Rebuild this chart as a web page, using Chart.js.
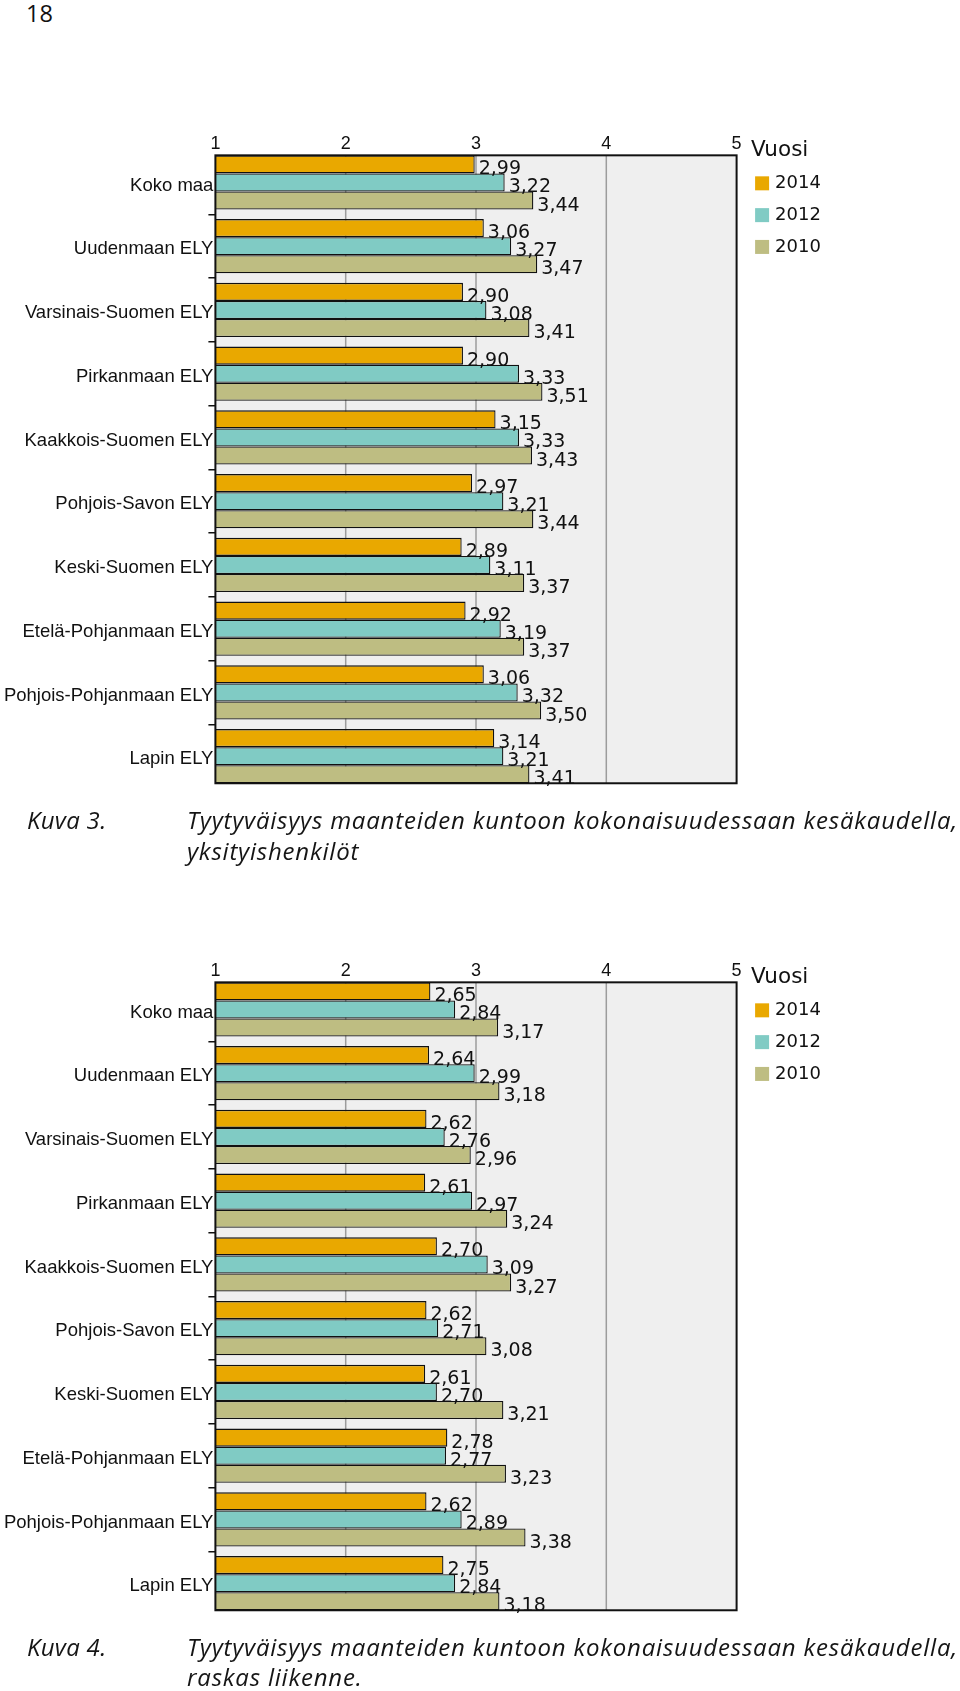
<!DOCTYPE html>
<html><head><meta charset="utf-8">
<script src="https://cdn.jsdelivr.net/npm/chart.js@4.4.1/dist/chart.umd.min.js"></script>
<style>
html,body{margin:0;padding:0;background:#fff;}
body{width:960px;height:1691px;position:relative;overflow:hidden;}
.pn{position:absolute;left:26px;top:2px;font:23.5px/23.5px "Open Sans",sans-serif;color:#111;}
.fig{position:absolute;left:0;width:960px;height:860px;}
.fig canvas{position:absolute;left:0;top:100px;}
.cap{position:absolute;left:0;width:960px;font:italic 24px/30.5px "Open Sans",sans-serif;letter-spacing:0.8px;color:#151515;white-space:nowrap;}
.cap .k{position:absolute;left:27px;top:0;letter-spacing:0.3px;}
.cap .t{position:absolute;left:187px;top:0;}
</style></head><body>
<div class="pn">18</div>
<div class="fig" style="top:0px"><canvas id="c1" width="960" height="710"></canvas>
<div class="cap" style="top:805px"><span class="k">Kuva 3.</span><span class="t">Tyytyväisyys maanteiden kuntoon kokonaisuudessaan kesäkaudella,<br>yksityishenkilöt</span></div></div>
<div class="fig" style="top:826.7px"><canvas id="c2" width="960" height="710"></canvas>
<div class="cap" style="top:805px"><span class="k">Kuva 4.</span><span class="t">Tyytyväisyys maanteiden kuntoon kokonaisuudessaan kesäkaudella,<br>raskas liikenne.</span></div></div>
<script>
const categories = ['Koko maa','Uudenmaan ELY','Varsinais-Suomen ELY','Pirkanmaan ELY','Kaakkois-Suomen ELY','Pohjois-Savon ELY','Keski-Suomen ELY','Etelä-Pohjanmaan ELY','Pohjois-Pohjanmaan ELY','Lapin ELY'];
const years = ['2014','2012','2010'];
const legendTitle = 'Vuosi';
const scaleTicks = [1,2,3,4,5];
// Kuva 3: yksityishenkilöt
const private2014 = [2.99,3.06,2.90,2.90,3.15,2.97,2.89,2.92,3.06,3.14];
const private2012 = [3.22,3.27,3.08,3.33,3.33,3.21,3.11,3.19,3.32,3.21];
const private2010 = [3.44,3.47,3.41,3.51,3.43,3.44,3.37,3.37,3.50,3.41];
// Kuva 4: raskas liikenne
const heavy2014 = [2.65,2.64,2.62,2.61,2.70,2.62,2.61,2.78,2.62,2.75];
const heavy2012 = [2.84,2.99,2.76,2.97,3.09,2.71,2.70,2.77,2.89,2.84];
const heavy2010 = [3.17,3.18,2.96,3.24,3.27,3.08,3.21,3.23,3.38,3.18];

const colors = ['#E9A800','#80CBC4','#BEBD82'];

function frameRect(chart){
  const first = chart.getDatasetMeta(0).data[0];
  const n = chart.data.datasets.length;
  const lm = chart.getDatasetMeta(n-1).data;
  const last = lm[lm.length-1];
  return {top: first.y - first.height/2, bottom: last.y + last.height/2};
}
const framePlugin = {
  id:'frame',
  beforeDatasetsDraw(chart){
    const {ctx, chartArea:a, scales:{x}} = chart;
    const f = frameRect(chart);
    ctx.save();
    ctx.fillStyle = '#EFEFEF';
    ctx.fillRect(a.left, f.top, a.right-a.left, f.bottom-f.top);
    ctx.strokeStyle = '#9C9C9C'; ctx.lineWidth = 1.5;
    x.ticks.forEach(t=>{
      if (t.value > x.min && t.value < x.max){
        const px = x.getPixelForValue(t.value);
        ctx.beginPath(); ctx.moveTo(px, f.top); ctx.lineTo(px, f.bottom); ctx.stroke();
      }
    });
    ctx.restore();
  },
  afterDatasetsDraw(chart){
    const {ctx, chartArea:a} = chart;
    const f = frameRect(chart);
    ctx.save();
    ctx.strokeStyle = '#111'; ctx.lineWidth = 2;
    ctx.strokeRect(a.left, f.top, a.right-a.left, f.bottom-f.top);
    ctx.restore();
  }
};
const valueLabels = {
  id:'valueLabels',
  afterDatasetsDraw(chart){
    const ctx = chart.ctx;
    ctx.save();
    ctx.font = '20px "DejaVu Sans"';
    ctx.fillStyle = '#111';
    ctx.textBaseline = 'alphabetic';
    ctx.textAlign = 'left';
    chart.data.datasets.forEach((ds, di)=>{
      chart.getDatasetMeta(di).data.forEach((bar, i)=>{
        const txt = ds.data[i].toFixed(2).replace('.', ',');
        ctx.save();
        ctx.translate(bar.x + 4, bar.y + bar.height/2 + 1);
        ctx.scale(0.95, 1);
        ctx.fillText(txt, 0, 0);
        ctx.restore();
      });
    });
    ctx.restore();
  }
};
const legendPlugin = {
  id:'sideLegend',
  afterDraw(chart){
    const {ctx, chartArea:a} = chart;
    const f = frameRect(chart);
    ctx.save();
    ctx.textBaseline = 'middle'; ctx.textAlign = 'left';
    ctx.fillStyle = '#111';
    ctx.font = '21.5px "DejaVu Sans"';
    ctx.fillText(legendTitle, a.right + 14.5, f.top - 4.5);
    ctx.font = '18px "DejaVu Sans"';
    chart.data.datasets.forEach((ds, i)=>{
      const cy = f.top + 28 + i*31.8;
      ctx.fillStyle = ds.backgroundColor;
      ctx.fillRect(a.right + 18.5, cy - 7, 14, 14);
      ctx.fillStyle = '#111';
      ctx.fillText(ds.label, a.right + 38.5, cy);
    });
    ctx.restore();
  }
};

function makeChart(id, series){
  return new Chart(document.getElementById(id), {
    type:'bar',
    data:{
      labels: categories,
      datasets: series.map((d,i)=>({
        label: years[i], data: d, backgroundColor: colors[i],
        borderColor:'#111', borderWidth:1.3, borderSkipped:false,
        barPercentage:1, categoryPercentage:0.85
      }))
    },
    options:{
      indexAxis:'y', responsive:false, animation:false,
      layout:{padding:{left:0, right:223.4, top:0, bottom:21.95}},
      plugins:{legend:{display:false}, tooltip:{enabled:false}},
      scales:{
        x:{
          type:'linear', position:'top', min:1, max:5,
          afterBuildTicks: s => { s.ticks = scaleTicks.map(v=>({value:v})); },
          afterFit: s => { s.height = 50.55; },
          grid:{display:false}, border:{display:false},
          ticks:{autoSkip:false, maxRotation:0, padding:-12.5, color:'#111',
                 font:{family:'"Liberation Sans", Arial, sans-serif', size:18}}
        },
        y:{
          type:'category', position:'left', offset:true,
          afterFit: s => { s.width = 215.4; },
          grid:{display:true, offset:true, drawOnChartArea:false, drawTicks:true, tickLength:7, lineWidth:1.5,
                color: c => (c.type !== 'tick' || c.index === 0) ? 'rgba(0,0,0,0)' : '#111'},
          border:{display:false},
          ticks:{autoSkip:false, padding:-5, labelOffset:3, color:'#111',
                 font:{family:'"Liberation Sans", Arial, sans-serif', size:18.5}}
        }
      }
    },
    plugins:[framePlugin, valueLabels, legendPlugin]
  });
}
makeChart('c1', [private2014, private2012, private2010]);
makeChart('c2', [heavy2014, heavy2012, heavy2010]);
</script>
</body></html>
